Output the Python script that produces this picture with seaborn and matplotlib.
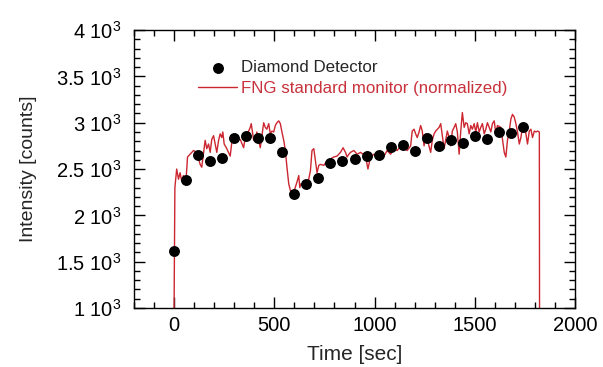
import matplotlib
matplotlib.use("Agg")
import matplotlib.pyplot as plt
from matplotlib.ticker import MultipleLocator, FuncFormatter
import seaborn as sns
import pandas as pd

# Diamond detector readings (one per minute)
diamond_time = [0, 60, 120, 180, 240, 300, 360, 420, 480, 540, 600, 660, 720, 780, 840,
                900, 960, 1020, 1080, 1140, 1200, 1260, 1320, 1380, 1440, 1500, 1560,
                1620, 1680, 1740]
diamond_counts = [1620, 2385, 2650, 2585, 2620, 2840, 2855, 2840, 2840, 2685, 2230, 2335,
                  2400, 2570, 2585, 2610, 2645, 2650, 2735, 2760, 2690, 2840, 2750, 2815,
                  2780, 2855, 2825, 2905, 2890, 2950]

# FNG standard monitor trace, normalized
monitor_time = [0, 4, 13, 22, 30, 38, 47, 60, 67, 80, 97, 113, 130, 138, 155, 163, 172,
                180, 188, 197, 205, 213, 222, 230, 238, 243, 250, 263, 280, 288, 297, 305,
                313, 330, 347, 355, 372, 380, 385, 397, 405, 413, 430, 438, 447, 455, 463,
                472, 480, 488, 497, 505, 513, 522, 530, 538, 547, 555, 563, 572, 580, 597,
                613, 622, 627, 633, 647, 663, 680, 688, 697, 705, 713, 722, 730, 747, 763,
                780, 797, 813, 830, 843, 855, 863, 872,
                880, 897, 913, 930, 955, 967, 980, 997, 1013, 1030, 1047, 1063, 1080, 1097,
                1113, 1130, 1147, 1163, 1180, 1188, 1197, 1205, 1213, 1222, 1230, 1238,
                1247, 1255, 1263, 1280, 1288, 1297, 1305, 1322, 1330, 1338, 1347, 1363,
                1372, 1380, 1388, 1397, 1405, 1413, 1422, 1430, 1438, 1447, 1455, 1463,
                1472, 1480, 1488, 1497, 1505, 1513, 1522, 1530, 1538, 1547, 1555, 1563,
                1572, 1580, 1588, 1597, 1605, 1613, 1630, 1638, 1647, 1655, 1663, 1672,
                1680, 1688, 1697, 1705, 1713, 1722, 1730, 1738, 1747, 1755, 1763, 1772,
                1780, 1788, 1797, 1805, 1813, 1822, 1823]
monitor_counts = [1000, 2300, 2500, 2390, 2460, 2370, 2430, 2390, 2630, 2660, 2700, 2680,
                  2550, 2520, 2810, 2720, 2770, 2680, 2820, 2860, 2770, 2680, 2810, 2880,
                  2840, 2900, 2770, 2720, 2640, 2790, 2860, 2880, 2810, 2820, 2730, 2840,
                  2910, 2950, 2990, 2810, 2820, 2900, 2730, 2860, 3000, 2950, 2930, 2990,
                  2880, 2910, 2900, 2970, 3000, 3020, 2990, 2900, 2810, 2700, 2520, 2340,
                  2270, 2250, 2360, 2430, 2300, 2340, 2340, 2300, 2480, 2700, 2720, 2590,
                  2460, 2540, 2550, 2540, 2590, 2610, 2630, 2640, 2680, 2730, 2680, 2630,
                  2660,
                  2680, 2700, 2660, 2680, 2640, 2500, 2630, 2660, 2630, 2680, 2640, 2700,
                  2660, 2720, 2700, 2750, 2730, 2700, 2750, 2910, 2930, 2880, 2840, 2900,
                  2970, 2910, 2750, 2880, 2820, 2680, 2810, 2880, 2910, 2950, 2990, 2860,
                  2720, 2910, 2840, 2750, 2910, 2950, 2990, 2900, 2660, 2910, 3110, 2950,
                  3000, 2990, 2880, 2970, 2930, 2990, 2900, 3000, 2900, 2950, 2990, 2880,
                  2930, 3000, 2950, 2900, 2990, 3020, 2880, 2970, 2950, 2820, 2680, 2630,
                  2810, 2910, 3040, 3090, 3060, 2990, 2900, 2770, 2840, 2950, 2990, 2880,
                  2770, 2910, 2930, 2840, 2910, 2900, 2910, 2900, 1000]

y_ticks = [1000, 1500, 2000, 2500, 3000, 3500, 4000]
x_ticks = [0, 500, 1000, 1500, 2000]

sns.set_style("ticks")
plt.rcParams["font.family"] = ["Liberation Sans", "DejaVu Sans"]
plt.rcParams["mathtext.fontset"] = "custom"
plt.rcParams["mathtext.rm"] = "Liberation Sans"
plt.rcParams["mathtext.it"] = "Liberation Sans:italic"

fig = plt.figure(figsize=(6.03, 3.67), dpi=100)
ax = fig.add_axes([0.2222, 0.1608, 0.7314, 0.7572])

monitor = pd.DataFrame({"time": monitor_time, "counts": monitor_counts})
diamond = pd.DataFrame({"time": diamond_time, "counts": diamond_counts})

sns.lineplot(data=monitor, x="time", y="counts", ax=ax, sort=False, estimator=None,
             color="#cc2630", linewidth=1.0, label="FNG standard monitor (normalized)",
             zorder=2)
sns.scatterplot(data=diamond, x="time", y="counts", ax=ax, color="black", s=62,
                edgecolor="black", linewidth=0, label="Diamond Detector", zorder=3)

ax.set_xlim(-200, 2000)
ax.set_ylim(1000, 4000)
ax.set_xticks(x_ticks)
ax.set_yticks(y_ticks)
ax.xaxis.set_minor_locator(MultipleLocator(100))
ax.yaxis.set_minor_locator(MultipleLocator(100))
ax.yaxis.set_major_formatter(
    FuncFormatter(lambda v, _: f"{v / 1000:g} " + r"$\mathregular{10^3}$"))

ax.tick_params(which="both", direction="in", top=True, right=True, labelsize=14.5,
               colors="black", width=1)
ax.tick_params(which="major", length=8)
ax.tick_params(axis="y", which="major", pad=9)
ax.tick_params(axis="x", which="major", pad=6)
ax.tick_params(which="minor", length=4)
for s in ax.spines.values():
    s.set_visible(True)
    s.set_color("black")
    s.set_linewidth(1)

ax.set_xlabel("Time [sec]", fontsize=15, labelpad=7)
ax.set_ylabel("Intensity [counts]", fontsize=14, labelpad=14)

handles, labels = ax.get_legend_handles_labels()
order = [labels.index("Diamond Detector"), labels.index("FNG standard monitor (normalized)")]
leg = ax.legend([handles[i] for i in order], [labels[i] for i in order],
                loc="upper left", bbox_to_anchor=(0.129, 0.915), frameon=False,
                fontsize=12.2, handlelength=2.35, handletextpad=0.2, labelspacing=0.35,
                borderaxespad=0)
leg.get_texts()[1].set_color("#c8323c")

fig.savefig("out.png", dpi=100, facecolor="white")
